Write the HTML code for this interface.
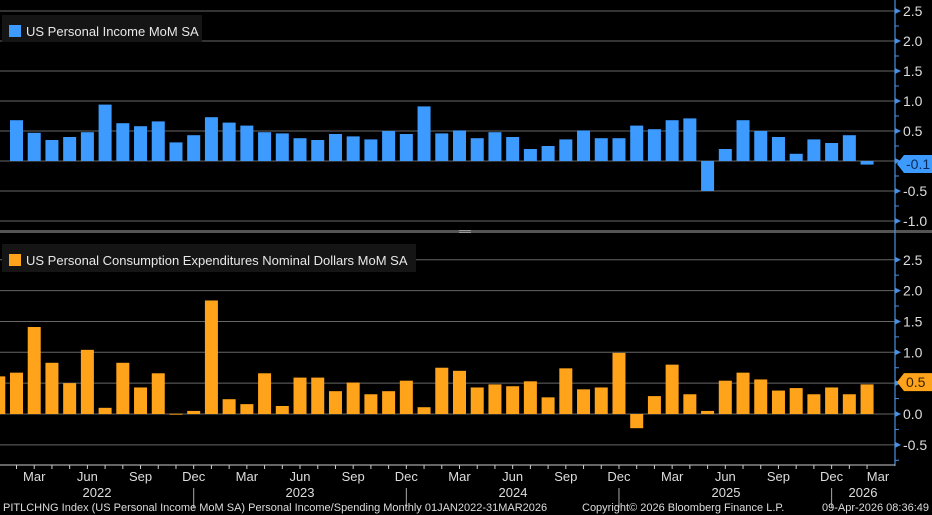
<!DOCTYPE html>
<html><head><meta charset="utf-8"><style>
html,body{margin:0;padding:0;background:#000;}
svg{display:block;font-family:"Liberation Sans",sans-serif;}
</style></head><body>
<svg id="chart" width="932" height="515" viewBox="0 0 932 515"></svg>
<script>
const months = ["Jan 22","Feb 22","Mar 22","Apr 22","May 22","Jun 22","Jul 22","Aug 22","Sep 22","Oct 22","Nov 22","Dec 22",
"Jan 23","Feb 23","Mar 23","Apr 23","May 23","Jun 23","Jul 23","Aug 23","Sep 23","Oct 23","Nov 23","Dec 23",
"Jan 24","Feb 24","Mar 24","Apr 24","May 24","Jun 24","Jul 24","Aug 24","Sep 24","Oct 24","Nov 24","Dec 24",
"Jan 25","Feb 25","Mar 25","Apr 25","May 25","Jun 25","Jul 25","Aug 25","Sep 25","Oct 25","Nov 25","Dec 25",
"Jan 26","Feb 26"];
const incomeValues = [null,0.68,0.47,0.35,0.40,0.48,0.94,0.63,0.58,0.66,0.31,0.43,0.73,0.64,0.59,0.48,0.46,0.38,0.35,0.45,0.41,0.36,0.50,0.45,0.91,0.46,0.51,
0.38,0.48,0.40,0.20,0.25,0.36,0.51,0.38,0.38,0.59,0.53,0.68,0.71,-0.50,0.20,0.68,0.50,0.40,0.12,0.36,0.30,0.43,-0.06];
const pceValues = [0.61,0.67,1.41,0.83,0.50,1.04,0.10,0.83,0.43,0.66,0.005,0.05,1.84,0.24,0.16,0.66,0.13,0.59,0.59,0.37,0.51,0.32,0.37,0.54,0.11,0.75,0.70,
0.43,0.48,0.45,0.53,0.27,0.74,0.40,0.43,0.99,-0.23,0.29,0.80,0.32,0.05,0.54,0.67,0.56,0.38,0.42,0.32,0.43,0.32,0.48];
const topTicks = [2.5,2.0,1.5,1.0,0.5,0.0,-0.5,-1.0];
const bottomTicks = [2.5,2.0,1.5,1.0,0.5,0.0,-0.5];
const quarterLabels = ["Mar","Jun","Sep","Dec","Mar","Jun","Sep","Dec","Mar","Jun","Sep","Dec","Mar","Jun","Sep","Dec","Mar"];
const quarterIdx = [2,5,8,11,14,17,20,23,26,29,32,35,38,41,44,47,50];
const yearLabels = ["2022","2023","2024","2025","2026"];
const yearLabelX = [97,300,513,726,863];
const yearSepIdx = [11,23,35,47];

const NS="http://www.w3.org/2000/svg";
const svg=document.getElementById('chart');
function el(tag,attrs,parent){const e=document.createElementNS(NS,tag);for(const k in attrs)e.setAttribute(k,attrs[k]);(parent||svg).appendChild(e);return e;}
const xC = i => 16.5 + (i-1)*17.72;
const BW = 13;
const yTop = v => 161 - v*60;
const yBot = v => 414 - v*61.7;
const AX = 895;

topTicks.forEach(t=>{
  const g=el('line',{x1:0,x2:AX,y1:yTop(t),y2:yTop(t),stroke:'#666','stroke-width':1});
  
  
});
bottomTicks.forEach(t=>{
  const g=el('line',{x1:0,x2:AX,y1:yBot(t),y2:yBot(t),stroke:'#666','stroke-width':1});
  
  
});
incomeValues.forEach((v,i)=>{
  if(v===null)return;
  const y0=yTop(0),y1=yTop(v);
  const r=el('rect',{x:xC(i)-BW/2,y:Math.min(y0,y1),width:BW,height:Math.max(1,Math.abs(y1-y0)),fill:'#3d9bff'});
  
  
});
pceValues.forEach((v,i)=>{
  const y0=yBot(0),y1=yBot(v);
  const r=el('rect',{x:xC(i)-BW/2,y:Math.min(y0,y1),width:BW,height:Math.max(1,Math.abs(y1-y0)),fill:'#ffa31a'});
  
  
});
const sep=el('rect',{x:0,y:230,width:932,height:3,fill:'#555'});


el('line',{x1:459,x2:471,y1:230.5,y2:230.5,stroke:'#999'});
el('line',{x1:459,x2:471,y1:232.5,y2:232.5,stroke:'#999'});
const ax=el('line',{x1:AX,x2:AX,y1:0,y2:466,stroke:'#4a90e2','stroke-width':1.2});


function axisTicks(ticks,yf,lo,hi,name){
  for(let v=hi;v>=lo-0.001;v-=0.25){
    el('line',{x1:AX,x2:AX+4,y1:yf(v),y2:yf(v),stroke:'#4a90e2'});
  }
  ticks.forEach(t=>{
    el('path',{d:`M${AX} ${yf(t)-3} L${AX+6} ${yf(t)} L${AX} ${yf(t)+3}Z`,fill:'#4a90e2'});
    const tx=el('text',{x:903,y:yf(t)+5,fill:'#ddd','font-size':14});
    tx.textContent=t.toFixed(1);
    
    
  });
}
axisTicks(topTicks,yTop,-1.0,2.5,'top-y-tick-label');
axisTicks(bottomTicks,yBot,-0.75,2.5,'bottom-y-tick-label');
function tag(y,color,txtColor,label,name){
  const g=el('g',{});
  
  
  el('path',{d:`M897 ${y} L904 ${y-9} L932 ${y-9} L932 ${y+9} L904 ${y+9}Z`,fill:color},g);
  const t=el('text',{x:906,y:y+5,fill:txtColor,'font-size':14},g);
  t.textContent=label;
}
tag(yTop(0)+3,'#3d9bff','#0a2a55',incomeValues[49].toFixed(1),'income-last-value-tag');
tag(yBot(0.5)-1,'#ffa31a','#3a2000',pceValues[49].toFixed(1),'pce-last-value-tag');
const xa=el('line',{x1:0,x2:AX,y1:465,y2:465,stroke:'#ccc'});


months.forEach((m,i)=>{el('line',{x1:xC(i),x2:xC(i),y1:465,y2:469,stroke:'#ccc'});});
quarterIdx.forEach((qi,k)=>{
  const t=el('text',{x:Math.min(xC(qi),878),y:481,fill:'#ddd','font-size':13,'text-anchor':'middle'});
  t.textContent=quarterLabels[k];
  
  
});
yearLabels.forEach((y,k)=>{
  const t=el('text',{x:yearLabelX[k],y:497,fill:'#ddd','font-size':13,'text-anchor':'middle'});
  t.textContent=y;
  
  
});
yearSepIdx.forEach(i=>{el('line',{x1:xC(i),x2:xC(i),y1:488,y2:508,stroke:'#aaa'});});
function legend(x,y,w,h,color,label,name){
  const g=el('g',{});
  
  
  el('rect',{x:x,y:y,width:w,height:h,fill:'#151515'},g);
  el('rect',{x:x+7,y:y+10,width:12,height:12,fill:color},g);
  const t=el('text',{x:x+24,y:y+21,fill:'#e8e8e8','font-size':13},g);
  t.textContent=label;
}
legend(2,15,200,27,'#3d9bff','US Personal Income MoM SA','income-legend');
legend(2,244,414,28,'#ffa31a','US Personal Consumption Expenditures Nominal Dollars MoM SA','pce-legend');
const f1=el('text',{x:3,y:511,fill:'#ddd','font-size':11});
f1.textContent='PITLCHNG Index (US Personal Income MoM SA) Personal Income/Spending Monthly 01JAN2022-31MAR2026';


const f2=el('text',{x:582,y:511,fill:'#ddd','font-size':11});
f2.textContent='Copyright© 2026 Bloomberg Finance L.P.';


const f3=el('text',{x:929,y:511,fill:'#ddd','font-size':11,'text-anchor':'end'});
f3.textContent='09-Apr-2026 08:36:49';


</script>
</body></html>
